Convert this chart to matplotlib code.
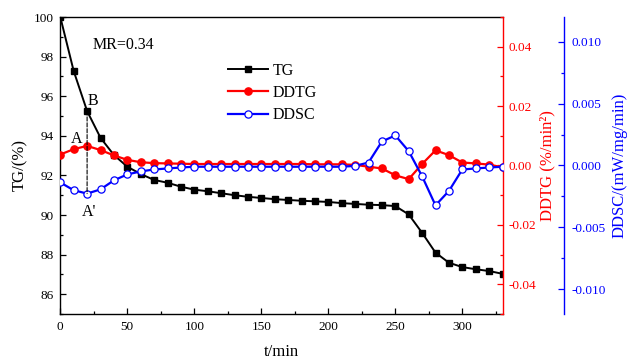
import matplotlib
matplotlib.use("Agg")
import matplotlib.pyplot as plt
from matplotlib.ticker import MultipleLocator, FormatStrFormatter
from matplotlib.patches import ConnectionPatch

plt.rcParams['font.family'] = ['Liberation Serif', 'DejaVu Serif']

t = [0, 10, 20, 30, 40, 50, 60, 70, 80, 90, 100, 110, 120, 130, 140, 150, 160,
     170, 180, 190, 200, 210, 220, 230, 240, 250, 260, 270, 280, 290, 300, 310, 320, 330]

tg = [100.0, 97.27, 95.25, 93.9, 93.03, 92.44, 92.07, 91.77, 91.63, 91.43, 91.28,
      91.2, 91.1, 91.0, 90.92, 90.86, 90.8, 90.76, 90.72, 90.69, 90.66, 90.6,
      90.56, 90.52, 90.5, 90.45, 90.03, 89.1, 88.1, 87.59, 87.37, 87.26, 87.17, 87.03]

ddtg = [0.0037, 0.0055, 0.0066, 0.0052, 0.0034, 0.0019, 0.0011, 0.0008, 0.0007, 0.0006,
        0.0005, 0.0005, 0.0005, 0.0005, 0.0005, 0.0005, 0.0005, 0.0005, 0.0005, 0.0004,
        0.0004, 0.0004, 0.0002, -0.0004, -0.0010, -0.0033, -0.0046, 0.0005, 0.0051, 0.0035,
        0.0010, 0.0007, 0.0003, -0.0006]

ddsc = [-0.00137, -0.0020, -0.00227, -0.00193, -0.00120, -0.00072, -0.00048, -0.00032,
        -0.00024, -0.00016, -0.0001, -0.0001, -0.0001, -0.0001, -0.0001, -0.0001, -0.0001,
        -0.0001, -0.0001, -0.0001, -0.0001, -0.0001, -0.00003, 0.00024, 0.00194, 0.00243,
        0.00116, -0.00087, -0.00322, -0.00206, -0.00032, -0.00024, -0.00016, -0.0001]

fig = plt.figure(figsize=(6.3, 3.63), dpi=100)
ax = fig.add_axes([60.3/630, 1-314/363, (502.5-60.3)/630, (314-17)/363])
ax2 = ax.twinx()
ax3 = ax.twinx()

l1, = ax.plot(t, tg, color='black', lw=1.4, marker='s', ms=4.8, label='TG')
l2, = ax2.plot(t, ddtg, color='red', lw=1.6, marker='o', ms=5.2, label='DDTG')
l3, = ax3.plot(t, ddsc, color='blue', lw=1.6, marker='o', ms=5.2, mfc='white',
               mec='blue', mew=0.9, label='DDSC')

ax.set_xlim(0, 330)
ax.set_ylim(85, 100)
ax2.set_ylim(-0.05, 0.05)
ax3.set_ylim(-0.012, 0.012)

ax.xaxis.set_major_locator(MultipleLocator(50))
ax.xaxis.set_minor_locator(MultipleLocator(25))
ax.yaxis.set_major_locator(MultipleLocator(2))
ax.yaxis.set_minor_locator(MultipleLocator(1))
ax2.yaxis.set_major_locator(MultipleLocator(0.02))
ax2.yaxis.set_minor_locator(MultipleLocator(0.01))
ax2.yaxis.set_major_formatter(FormatStrFormatter('%.2f'))
ax3.yaxis.set_major_locator(MultipleLocator(0.005))
ax3.yaxis.set_minor_locator(MultipleLocator(0.0025))
ax3.yaxis.set_major_formatter(FormatStrFormatter('%.3f'))

fs_tick = 9.5
ax.tick_params(axis='both', which='major', direction='in', length=4, width=0.9,
               labelsize=fs_tick, pad=5, top=False, right=False)
ax.tick_params(axis='both', which='minor', direction='in', length=2.5, width=0.9,
               top=False, right=False)
ax2.tick_params(axis='y', which='major', direction='in', length=4, width=0.9,
                labelsize=fs_tick, colors='red', pad=4)
ax2.tick_params(axis='y', which='minor', direction='in', length=2.5, width=0.9, colors='red')
ax3.tick_params(axis='y', which='major', direction='in', length=4, width=0.9,
                labelsize=fs_tick, colors='blue', pad=5)
ax3.tick_params(axis='y', which='minor', direction='in', length=2.5, width=0.9, colors='blue')

for s in ['left', 'bottom', 'top']:
    ax.spines[s].set_linewidth(1.0)
ax.spines['right'].set_visible(False)
ax2.spines['right'].set_color('red')
ax2.spines['right'].set_linewidth(1.0)
for s in ['left', 'bottom', 'top']:
    ax2.spines[s].set_visible(False)
    ax3.spines[s].set_visible(False)
ax3.spines['right'].set_position(('axes', (564.3-60.3)/(502.5-60.3)))
ax3.spines['right'].set_color('blue')
ax3.spines['right'].set_linewidth(1.0)

ax.set_xlabel('t/min', fontsize=12, labelpad=8)
ax.set_ylabel('TG/(%)', fontsize=12, labelpad=4)
ax2.set_ylabel('DDTG (%/min²)', fontsize=12, color='red', labelpad=3)
ax3.set_ylabel('DDSC/(mW/mg/min)', fontsize=12, color='blue', labelpad=4)

ax.text(24.4, 98.59, 'MR=0.34', fontsize=11.5, va='center', ha='left')
ax.text(12.5, 93.84, 'A', fontsize=11.5, va='center', ha='center')
ax.text(24.2, 95.78, 'B', fontsize=11.5, va='center', ha='center')
ax.text(21.8, 90.15, "A'", fontsize=11.5, va='center', ha='center')

con = ConnectionPatch(xyA=(t[2], tg[2]), coordsA=ax.transData,
                      xyB=(t[2], ddsc[2]), coordsB=ax3.transData,
                      linestyle='--', color='black', lw=0.8)
fig.add_artist(con)

leg = ax3.legend([l1, l2, l3], ['TG', 'DDTG', 'DDSC'], loc='upper left',
                 bbox_to_anchor=(228/630, 1-63/363), bbox_transform=fig.transFigure,
                 frameon=False, fontsize=11.5, handlelength=2.5, handletextpad=0.3,
                 labelspacing=0.38, borderpad=0, borderaxespad=0)

fig.savefig('out.png', dpi=100)
